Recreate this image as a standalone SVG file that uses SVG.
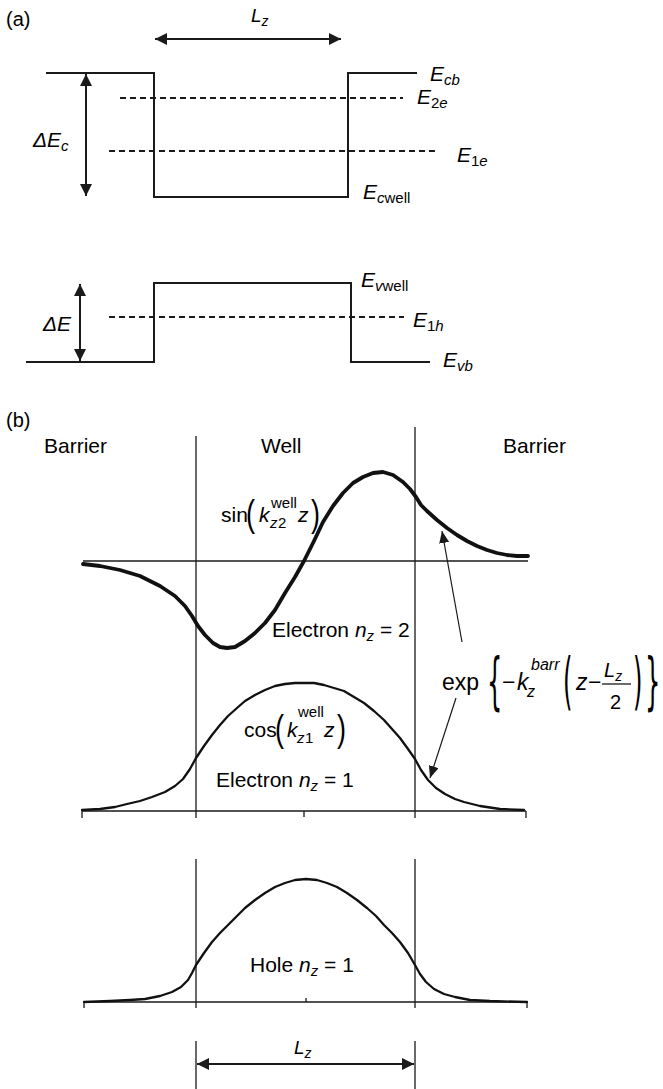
<svg xmlns="http://www.w3.org/2000/svg" width="663" height="1089" viewBox="0 0 663 1089">
<style>
text{font-family:"Liberation Sans",Arial,sans-serif;fill:#000}
.it{font-style:italic}
.lab{font-size:21px}
.sub{font-size:15px}
.band{fill:none;stroke:#1a1a1a;stroke-width:2}
.dash{fill:none;stroke:#1a1a1a;stroke-width:1.8;stroke-dasharray:6 4}
.thin{fill:none;stroke:#1a1a1a;stroke-width:1.3}
.wave{fill:none;stroke:#111;stroke-width:2.3;stroke-linejoin:round;stroke-linecap:round}
.thick{fill:none;stroke:#111;stroke-width:3.8;stroke-linejoin:round;stroke-linecap:round}
.arr{fill:none;stroke:#1a1a1a;stroke-width:2;marker-start:url(#hs);marker-end:url(#he)}
.arrT{fill:none;stroke:#1a1a1a;stroke-width:1.2;marker-end:url(#ht)}
.delim{font-family:"DejaVu Sans","Liberation Sans",sans-serif;font-size:44px}
</style>
<defs>
<marker id="he" markerUnits="userSpaceOnUse" markerWidth="14" markerHeight="12" refX="12" refY="6" orient="auto"><path d="M0,0 L12,6 L0,12 Z" fill="#1a1a1a"/></marker>
<marker id="hs" markerUnits="userSpaceOnUse" markerWidth="14" markerHeight="12" refX="0" refY="6" orient="auto"><path d="M12,0 L0,6 L12,12 Z" fill="#1a1a1a"/></marker>
<marker id="ht" markerUnits="userSpaceOnUse" markerWidth="14" markerHeight="10" refX="12" refY="5" orient="auto"><path d="M0,0 L12,5 L0,10 Z" fill="#1a1a1a"/></marker>
</defs>

<g id="panel-a-label"><text x="6" y="26" font-size="20">(a)</text></g>

<g id="conduction-band">
<path class="band" d="M46,73 H154 V197 H348 V73 H417"/>
<text x="430" y="81" class="lab it">E<tspan class="sub" dy="4">cb</tspan></text>
</g>
<g id="level-E2e">
<path class="dash" d="M120,98 H403"/>
<text x="417" y="104" class="lab it">E<tspan class="sub" dy="4" font-style="normal">2</tspan><tspan class="sub">e</tspan></text>
</g>
<g id="level-E1e">
<path class="dash" d="M109,151 H437"/>
<text x="457" y="162" class="lab it">E<tspan class="sub" dy="4" font-style="normal">1</tspan><tspan class="sub">e</tspan></text>
</g>
<g id="label-Ecwell">
<text x="363" y="199" class="lab it">E<tspan class="sub" dy="4">c</tspan><tspan class="sub" font-style="normal">well</tspan></text>
</g>
<g id="label-dEc"><text x="33" y="147" class="lab it">ΔE<tspan class="sub" dy="4">c</tspan></text></g>
<g id="label-Lz-top"><text x="251" y="22" font-size="19" class="it">L<tspan font-size="14" dy="4">z</tspan></text></g>

<g id="valence-band">
<path class="band" d="M26,362 H154 V283 H351 V362 H430"/>
<text x="361" y="287" class="lab it">E<tspan class="sub" dy="4">v</tspan><tspan class="sub" font-style="normal">well</tspan></text>
<text x="443" y="367" class="lab it">E<tspan class="sub" dy="4">vb</tspan></text>
</g>
<g id="level-E1h">
<path class="dash" d="M109,317 H404"/>
<text x="413" y="327" class="lab it">E<tspan class="sub" dy="4" font-style="normal">1</tspan><tspan class="sub">h</tspan></text>
</g>
<g id="label-dE"><text x="43" y="331" class="lab it">ΔE</text></g>

<g id="panel-b-label"><text x="6" y="427" font-size="20">(b)</text></g>
<g id="region-labels">
<text x="44" y="453" class="lab">Barrier</text>
<text x="261" y="453" class="lab">Well</text>
<text x="503" y="453" class="lab">Barrier</text>
</g>

<g id="well-walls">
<path class="thin" d="M196,436 V818 M415,427 V818 M196,859 V1008 M415,859 V1008 M196,1041 V1089 M415,1041 V1089"/>
</g>

<g id="axes">
<path class="thin" d="M83,561 H528"/>
<path class="thin" d="M82,811 H526 M82,811 V818 M304,811 V817 M526,811 V818"/>
<path class="thin" d="M84,1002 H527 M84,1002 V1008 M306,1002 V998 M527,1002 V1008"/>
</g>

<g id="electron-n2">
<path class="thick" d="M83,564 L100,566 L120,570 L140,576 L160,586 L175,596 L185,606 L192,616 L198,626 L205,635 L213,643 L220,647 L227,648 L235,647 L245,641 L255,633 L265,623 L275,610 L285,593 L295,577 L304,561 L314,541 L323,522 L333,506 L343,493 L353,483 L363,477 L373,473 L383,472 L393,475 L403,482 L410,489 L416,497 L421,505 L427,511 L437,520 L447,528 L457,535 L467,541 L477,546 L487,550 L497,553 L507,555 L517,556 L528,556"/>
<text x="221" y="522" class="lab">sin</text>
<text transform="translate(246,526) scale(0.75,1)" font-size="36">(</text>
<text x="259" y="522" class="lab it">k</text>
<text x="270" y="528" class="sub it">z</text><text x="278" y="528" class="sub">2</text>
<text x="271" y="508" class="sub">well</text>
<text x="298" y="522" class="lab it">z</text>
<text transform="translate(311,526) scale(0.75,1)" font-size="36">)</text>
<text x="272" y="637" class="lab">Electron <tspan class="it">n</tspan><tspan class="sub it" dy="4">z</tspan><tspan dy="-4"> = 2</tspan></text>
</g>

<g id="electron-n1">
<path class="wave" d="M82,810 L100,809 L115,807 L127,804 L140,801 L152,797 L165,792 L175,786 L183,779 L190,769 L196,758 L204,746 L212,735 L220,725 L228,716 L237,708 L245,701 L255,695 L265,690 L275,686 L285,684 L295,683 L304,683 L314,683 L324,685 L334,688 L344,691 L354,697 L364,703 L374,711 L384,720 L392,729 L400,738 L408,749 L415,759 L421,770 L428,780 L436,788 L445,794 L455,799 L464,802 L480,806 L500,809 L524,810"/>
<text x="244" y="737" class="lab">cos</text>
<text transform="translate(275,741) scale(0.75,1)" font-size="36">(</text>
<text x="287" y="737" class="lab it">k</text>
<text x="297" y="743" class="sub it">z</text><text x="305" y="743" class="sub">1</text>
<text x="298" y="717" class="sub">well</text>
<text x="324" y="737" class="lab it">z</text>
<text transform="translate(337,741) scale(0.75,1)" font-size="36">)</text>
<text x="216" y="787" class="lab">Electron <tspan class="it">n</tspan><tspan class="sub it" dy="4">z</tspan><tspan dy="-4"> = 1</tspan></text>
</g>

<g id="hole-n1">
<path class="wave" d="M84,1002 L110,1001 L130,1000 L145,999 L160,996 L172,992 L181,987 L188,980 L192,973 L196,965 L204,953 L212,942 L220,933 L228,925 L237,916 L245,908 L255,900 L265,893 L275,887 L285,883 L295,880 L306,879 L317,880 L327,883 L337,887 L347,893 L357,900 L367,908 L376,916 L384,925 L392,933 L400,942 L408,953 L415,965 L420,974 L426,982 L434,989 L444,994 L455,997 L470,1000 L490,1001 L527,1002"/>
<text x="250" y="972" class="lab">Hole <tspan class="it">n</tspan><tspan class="sub it" dy="4">z</tspan><tspan dy="-4"> = 1</tspan></text>
</g>

<g id="label-exp">
<text x="442" y="690" font-size="23">exp</text>
<text class="delim" transform="translate(487,702) scale(0.55,1.4)">{</text>
<text x="502" y="690" font-size="23">−</text>
<text x="517" y="690" font-size="23" class="it">k</text>
<text x="527" y="697" class="it" font-size="16">z</text>
<text x="531" y="670" class="it" font-size="16">barr</text>
<text class="delim" transform="translate(563,702) scale(0.55,1.4)">(</text>
<text x="576" y="690" font-size="23" class="it">z</text>
<text x="588" y="690" font-size="23">−</text>
<text x="604" y="677" font-size="20" class="it">L<tspan font-size="14" dy="4">z</tspan></text>
<path d="M602,684 H631" stroke="#1a1a1a" stroke-width="1.3"/>
<text x="610" y="709" font-size="20">2</text>
<text class="delim" transform="translate(633,702) scale(0.55,1.4)">)</text>
<text class="delim" transform="translate(645,702) scale(0.55,1.4)">}</text>
</g>

<g id="label-Lz-bottom"><text x="294" y="1054" font-size="19" class="it">L<tspan font-size="14" dy="4">z</tspan></text></g>

<g id="connectors">
<path class="arr" d="M155,39 H341"/>
<path class="arr" d="M86,74 V196"/>
<path class="arr" d="M80,284 V361"/>
<path class="arrT" d="M462,642 L442,531"/>
<path class="arrT" d="M456,698 L430,778"/>
<path class="arr" d="M197,1064 H414"/>
</g>
</svg>
